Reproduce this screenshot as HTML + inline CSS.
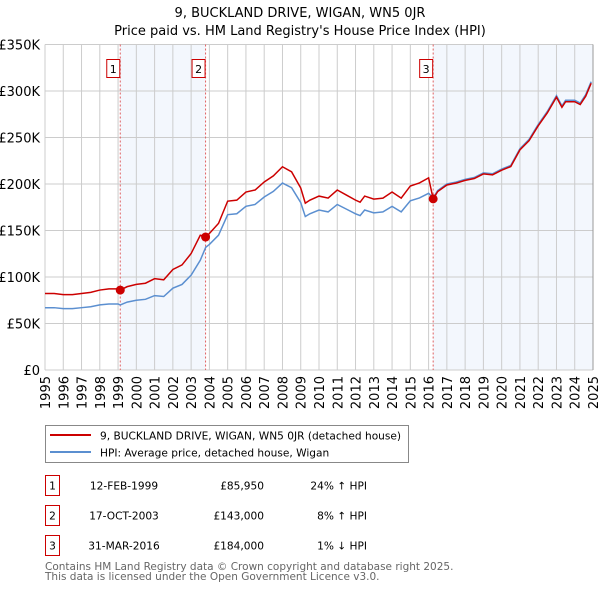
<!DOCTYPE html>
<html><head><meta charset="utf-8"><style>
body{margin:0;background:#fff;width:600px;height:590px;overflow:hidden;font-family:"DejaVu Sans","Liberation Sans",sans-serif;}
svg text{font-family:"DejaVu Sans","Liberation Sans",sans-serif;}
</style></head><body>
<svg id="chart" width="600" height="590" xmlns="http://www.w3.org/2000/svg">
<text x="300" y="17" text-anchor="middle" font-size="13" fill="#000">9, BUCKLAND DRIVE, WIGAN, WN5 0JR</text>
<text x="300" y="35" text-anchor="middle" font-size="13" fill="#000">Price paid vs. HM Land Registry's House Price Index (HPI)</text>
<g id="plot"></g>
<g>
<rect x="45.5" y="425.5" width="363" height="37" fill="#fff" stroke="#888"/>
<line x1="50" y1="435" x2="91" y2="435" stroke="#cc0000" stroke-width="2"/>
<text x="100" y="439.5" font-size="10.6">9, BUCKLAND DRIVE, WIGAN, WN5 0JR (detached house)</text>
<line x1="50" y1="452" x2="91" y2="452" stroke="#5b8fd0" stroke-width="2"/>
<text x="100" y="456.5" font-size="10.6">HPI: Average price, detached house, Wigan</text>
</g>
<g font-size="10.6">
<rect x="45.5" y="475.5" width="14" height="20" fill="#fff" stroke="#cc0000"/>
<text x="52.5" y="489.5" text-anchor="middle">1</text>
<text x="124" y="489.5" text-anchor="middle">12-FEB-1999</text>
<text x="264" y="489.5" text-anchor="end">£85,950</text>
<text x="367" y="489.5" text-anchor="end">24% ↑ HPI</text>
<rect x="45.5" y="505.5" width="14" height="20" fill="#fff" stroke="#cc0000"/>
<text x="52.5" y="519.5" text-anchor="middle">2</text>
<text x="124" y="519.5" text-anchor="middle">17-OCT-2003</text>
<text x="264" y="519.5" text-anchor="end">£143,000</text>
<text x="367" y="519.5" text-anchor="end">8% ↑ HPI</text>
<rect x="45.5" y="535.5" width="14" height="20" fill="#fff" stroke="#cc0000"/>
<text x="52.5" y="549.5" text-anchor="middle">3</text>
<text x="124" y="549.5" text-anchor="middle">31-MAR-2016</text>
<text x="264" y="549.5" text-anchor="end">£184,000</text>
<text x="367" y="549.5" text-anchor="end">1% ↓ HPI</text>
</g>
<text x="45" y="570" font-size="10.5" fill="#666">Contains HM Land Registry data © Crown copyright and database right 2025.</text>
<text x="45" y="580" font-size="10.5" fill="#666">This data is licensed under the Open Government Licence v3.0.</text>
</svg>
<script>
const hpiYears=[1995,1995.5,1996,1996.5,1997,1997.5,1998,1998.5,1999,1999.12,1999.5,2000,2000.5,2001,2001.5,2002,2002.5,2003,2003.5,2003.8,2004,2004.5,2005,2005.5,2006,2006.5,2007,2007.5,2008,2008.5,2009,2009.25,2009.5,2010,2010.5,2011,2011.5,2012,2012.25,2012.5,2013,2013.5,2014,2014.5,2015,2015.5,2016,2016.25,2016.5,2017,2017.5,2018,2018.5,2019,2019.5,2020,2020.5,2021,2021.5,2022,2022.5,2023,2023.3,2023.5,2024,2024.3,2024.6,2024.9];
const hpiValues=[67,67,66,66,67,68,70,71,71,70,73,75,76,80,79,88,92,102,118,132,135,145,167,168,176,178,186,192,201,196,180,165,168,172,170,178,173,168,166,172,169,170,176,170,182,185,190,185,193,200,202,205,207,212,211,216,220,238,248,264,278,295,284,290,290,287,296,310];
const saleYears=[1999.12,2003.79,2016.25];
const salePrices=[85950,143000,184000];
const saleLabels=["1","2","3"];
const yTicks=[0,50,100,150,200,250,300,350];
const yTickLabels=["£0","£50K","£100K","£150K","£200K","£250K","£300K","£350K"];
const xTicks=[1995,1996,1997,1998,1999,2000,2001,2002,2003,2004,2005,2006,2007,2008,2009,2010,2011,2012,2013,2014,2015,2016,2017,2018,2019,2020,2021,2022,2023,2024,2025];

const NS="http://www.w3.org/2000/svg";
const L=45,R=593,T=44.5,B=370;
const xs=y=>L+(y-1995)/30*(R-L);
const ys=v=>B-v/350*(B-T);
const g=document.getElementById('plot');
function el(t,a){const e=document.createElementNS(NS,t);for(const k in a)e.setAttribute(k,a[k]);g.appendChild(e);return e;}
function interp(y){for(let i=1;i<hpiYears.length;i++){if(y<=hpiYears[i]){const f=(y-hpiYears[i-1])/(hpiYears[i]-hpiYears[i-1]);return hpiValues[i-1]+f*(hpiValues[i]-hpiValues[i-1]);}}return hpiValues[hpiValues.length-1];}
for(let i=0;i<saleYears.length;i+=2){
 const x1=xs(saleYears[i]),x2=i+1<saleYears.length?xs(saleYears[i+1]):R;
 const r=el('rect',{x:x1,y:T,width:x2-x1,height:B-T,fill:'#eef3fc',opacity:0.7});
 
 
}
yTicks.forEach((v,i)=>{
 const l=el('line',{x1:L,x2:R,y1:ys(v),y2:ys(v),stroke:'#ccc','stroke-width':1});
 
 
 const t=el('text',{x:L-5,y:ys(v)+5,'text-anchor':'end','font-size':13});
 t.textContent=yTickLabels[i];
 
 
});
xTicks.forEach(yr=>{
 const l=el('line',{x1:xs(yr),x2:xs(yr),y1:T,y2:B,stroke:'#ccc','stroke-width':1});
 
 
 const t=el('text',{x:0,y:0,'text-anchor':'end','font-size':13,transform:`translate(${xs(yr)+5},${B+6}) rotate(-90)`});
 t.textContent=yr;
 
 
});
el('line',{x1:R,x2:R,y1:T,y2:B,stroke:'#999','stroke-width':1});
saleYears.forEach((yr,i)=>{
 const l=el('line',{x1:xs(yr),x2:xs(yr),y1:T,y2:B,stroke:'#e06060','stroke-width':1,'stroke-dasharray':'2,2'});
 
 
 const b=el('rect',{x:xs(yr)-13.5,y:59.5,width:13,height:18,fill:'#fff',stroke:'#cc0000'});
 
 
 const t=el('text',{x:xs(yr)-7,y:73,'text-anchor':'middle','font-size':11});
 t.textContent=saleLabels[i];
 
 
});
const hp=el('polyline',{points:hpiYears.map((y,i)=>xs(y)+','+ys(hpiValues[i])).join(' '),fill:'none',stroke:'#5b8fd0','stroke-width':1.5});


const ratios=saleYears.map((y,i)=>salePrices[i]/1000/interp(y));
const redPts=hpiYears.map((y,i)=>{let k=0;for(let j=0;j<saleYears.length;j++)if(y>=saleYears[j]-1e-6)k=j;return xs(y)+','+ys(hpiValues[i]*ratios[k]);});
const rp=el('polyline',{points:redPts.join(' '),fill:'none',stroke:'#cc0000','stroke-width':1.5});


saleYears.forEach((yr,i)=>{
 const c=el('circle',{cx:xs(yr),cy:ys(salePrices[i]/1000),r:4.5,fill:'#cc0000'});
 
 
});
</script>
</body></html>
